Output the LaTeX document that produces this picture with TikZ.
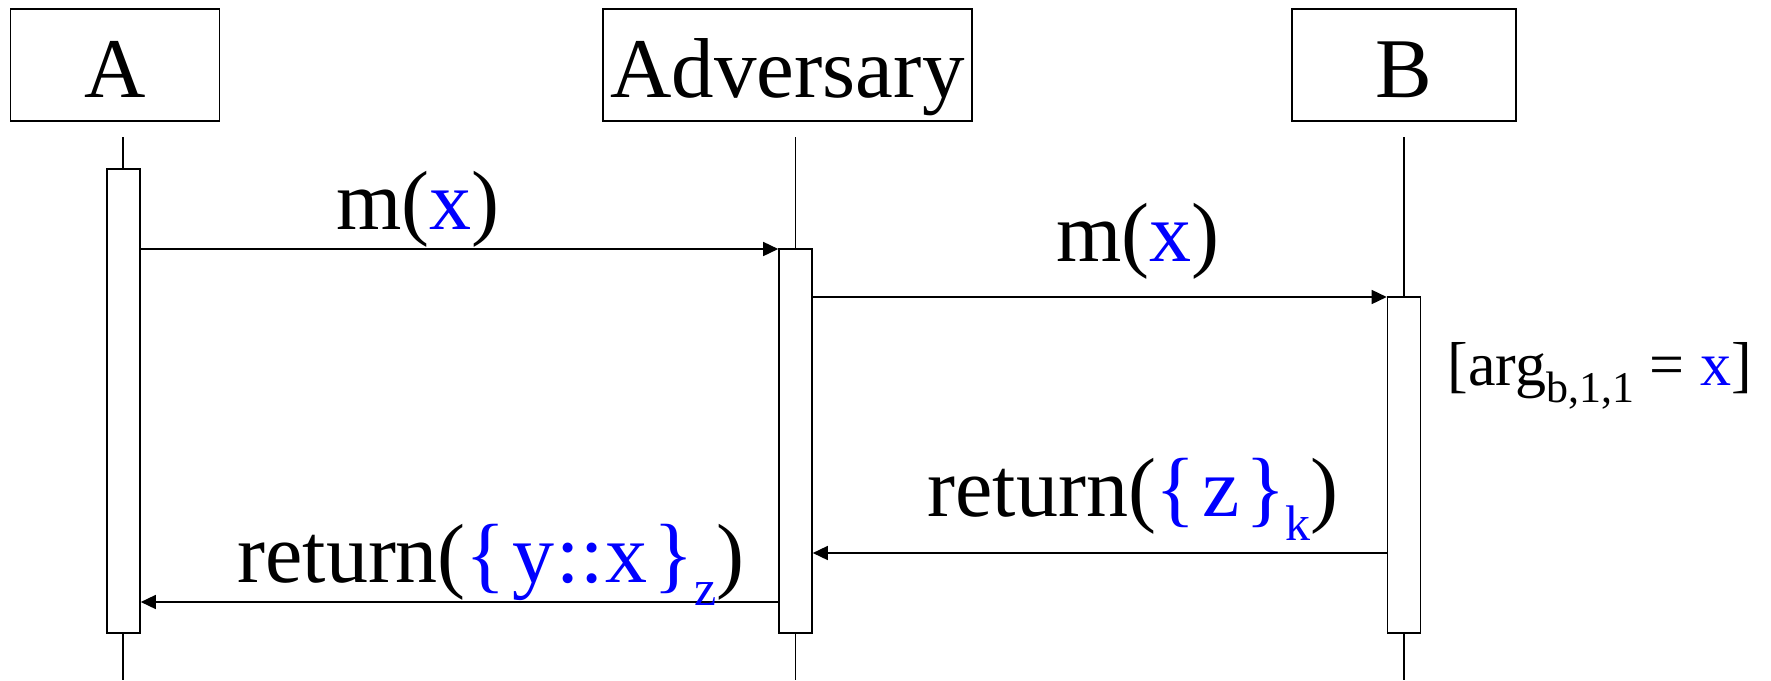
\documentclass[tikz,border=0pt]{standalone}
\usepackage{fontspec}
\setmainfont{Liberation Serif}
\usetikzlibrary{arrows.meta,calc}
\newcommand\lowsub[3]{\raisebox{-#2}{\fontsize{#1}{#1}\selectfont #3}}
\newcommand\lbr{\{\kern3pt}
\newcommand\rbr{\kern3pt\}}
\begin{document}
\begin{tikzpicture}[x=0.5pt,y=-0.5pt,
  head/.style={draw,line width=0.9pt,inner sep=0pt,anchor=base,text height=44pt,text depth=12pt,
    font=\fontsize{42.5pt}{42.5pt}\selectfont},
  life/.style={line width=0.75pt},
  act/.style={draw,fill=white,line width=0.8pt,inner sep=0pt,minimum width=16.5pt},
  msg/.style={line width=0.75pt,-{Triangle[length=7.5pt,width=7pt]}},
  lbl/.style={inner sep=0pt,anchor=base west,font=\fontsize{42pt}{42pt}\selectfont},
  note/.style={inner sep=0pt,anchor=base west,font=\fontsize{31pt}{31pt}\selectfont}]
\useasboundingbox (0,0) rectangle (1771,680);

% header boxes
\node[head,minimum width=104.5pt] (hA) at (115,97) {A};
\node[head,minimum width=184.5pt] (hV) at (787.5,97) {Adversary};
\node[head,minimum width=112pt] (hB) at (1404,97) {B};

% lifelines
\coordinate (tA) at (123,137);   \coordinate (bA) at (123,680);
\coordinate (tV) at (795.5,137); \coordinate (bV) at (795.5,680);
\coordinate (tB) at (1404,137);  \coordinate (bB) at (1404,680);
\draw[life] (tA) -- (bA);
\draw[life] (tV) -- (bV);
\draw[life] (tB) -- (bB);

% activation bars
\node[act,minimum height=232pt] (actA) at (123.5,401) {};
\node[act,minimum height=192pt] (actV) at (795.5,441) {};
\node[act,minimum height=168pt] (actB) at (1404,465) {};

% message levels
\coordinate (m1) at (0,249);
\coordinate (m2) at (0,297);
\coordinate (m3) at (0,553);
\coordinate (m4) at (0,602);

\draw[msg] (actA.east |- m1) -- (actV.west |- m1);
\draw[msg] (actV.east |- m2) -- (actB.west |- m2);
\draw[msg] (actB.west |- m3) -- (actV.east |- m3);
\draw[msg] (actV.west |- m4) -- (actA.east |- m4);

% labels
\node[lbl] (l1) at (336,229) {m(\textcolor{blue}{x})};
\node[lbl] (l2) at (1056,261) {m(\textcolor{blue}{x})};
\node[note] (l5) at (1447,385) {[arg\lowsub{22pt}{8.5pt}{b,1,1} = \textcolor{blue}{x}]};
\node[lbl] (l3) at (927,516) {return(\textcolor{blue}{\lbr z\rbr\lowsub{25pt}{12pt}{k}})};
\node[lbl] (l4) at (237,582) {return(\textcolor{blue}{\lbr y\kern1pt:\kern0.5pt:\kern1pt x\rbr\lowsub{25pt}{11.5pt}{z}})};
\end{tikzpicture}
\end{document}
